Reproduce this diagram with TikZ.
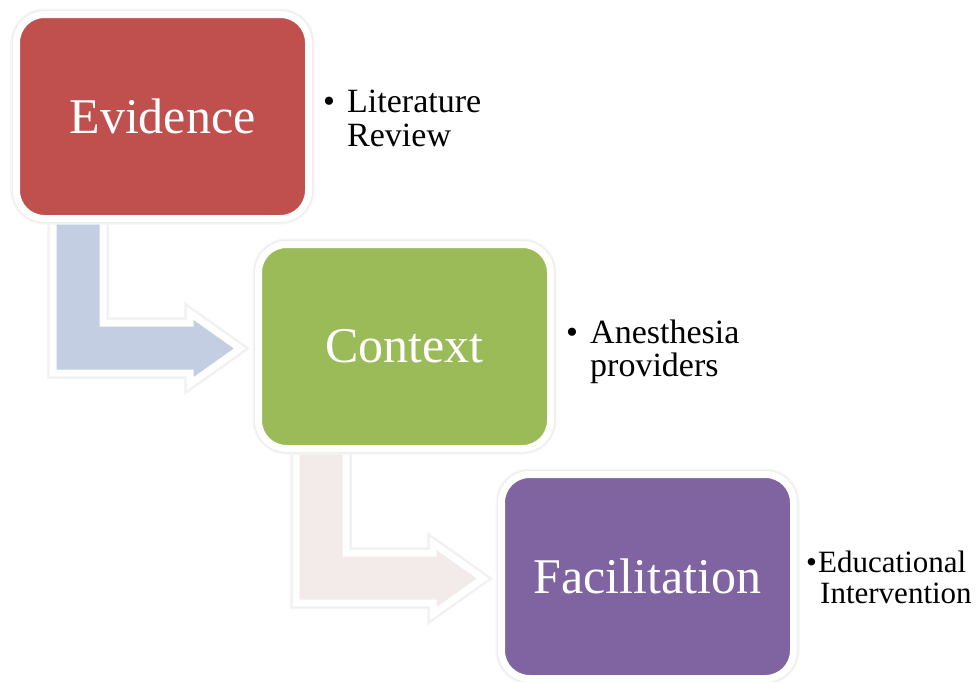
\documentclass[tikz,border=0pt]{standalone}
\usepackage{fontspec}
\setmainfont{Liberation Serif}
\definecolor{evred}{HTML}{C0504D}
\definecolor{cxgreen}{HTML}{9BBB59}
\definecolor{fapurple}{HTML}{8064A2}
\definecolor{arblue}{HTML}{C4CEE2}
\definecolor{arpink}{HTML}{F3EAEA}
\begin{document}
\begin{tikzpicture}[x=1pt,y=-1pt,
  halo/.style={preaction={draw=black!4,line width=12pt},preaction={draw=black!7,line width=9pt}},
  stagebox/.style={rectangle,rounded corners=28pt,draw=white,line width=7pt,halo,
    minimum width=292pt,minimum height=204pt,inner sep=0pt,text=white,font=\fontsize{50}{56}\selectfont},
  bentarrow/.style={draw=white,line width=7pt,line join=miter,halo},
  sidetext/.style={anchor=base west,inner sep=0pt,font=\fontsize{34}{38}\selectfont},
  smalltext/.style={anchor=base west,inner sep=0pt,font=\fontsize{31}{34}\selectfont}]
\useasboundingbox (0,0) rectangle (979,681);
% connectors (bent arrows)
\coordinate (a1) at (53,200);
\draw[bentarrow,fill=arblue] (a1) -- (53,373) -- (190,373) -- (190,384) -- (240,348.5) -- (190,313) -- (190,323) -- (103,323) -- (103,200) -- cycle;
\coordinate (a2) at (296,430);
\draw[bentarrow,fill=arpink] (a2) -- (296,603) -- (433,603) -- (433,614) -- (483,578.5) -- (433,543) -- (433,553) -- (346,553) -- (346,430) -- cycle;
% stage boxes
\node[stagebox,fill=evred] (ev) at (162.5,116.5) {Evidence};
\node[stagebox,fill=cxgreen] (cx) at (404.5,346.5) {Context};
\node[stagebox,fill=fapurple] (fa) at (647.5,576.5) {Facilitation};
% side texts
\node[sidetext] (b1) at (323,112) {•};
\node[sidetext] (t1a) at (347,112) {Literature};
\node[sidetext] (t1b) at (347,146) {Review};
\node[sidetext] (b2) at (566,343) {•};
\node[sidetext] (t2a) at (590,343) {Anesthesia};
\node[sidetext] (t2b) at (590,376) {providers};
\node[smalltext] (b3) at (806,572) {•};
\node[smalltext] (t3a) at (818,572) {Educational};
\node[smalltext] (t3b) at (820,603) {Intervention};
\end{tikzpicture}
\end{document}
